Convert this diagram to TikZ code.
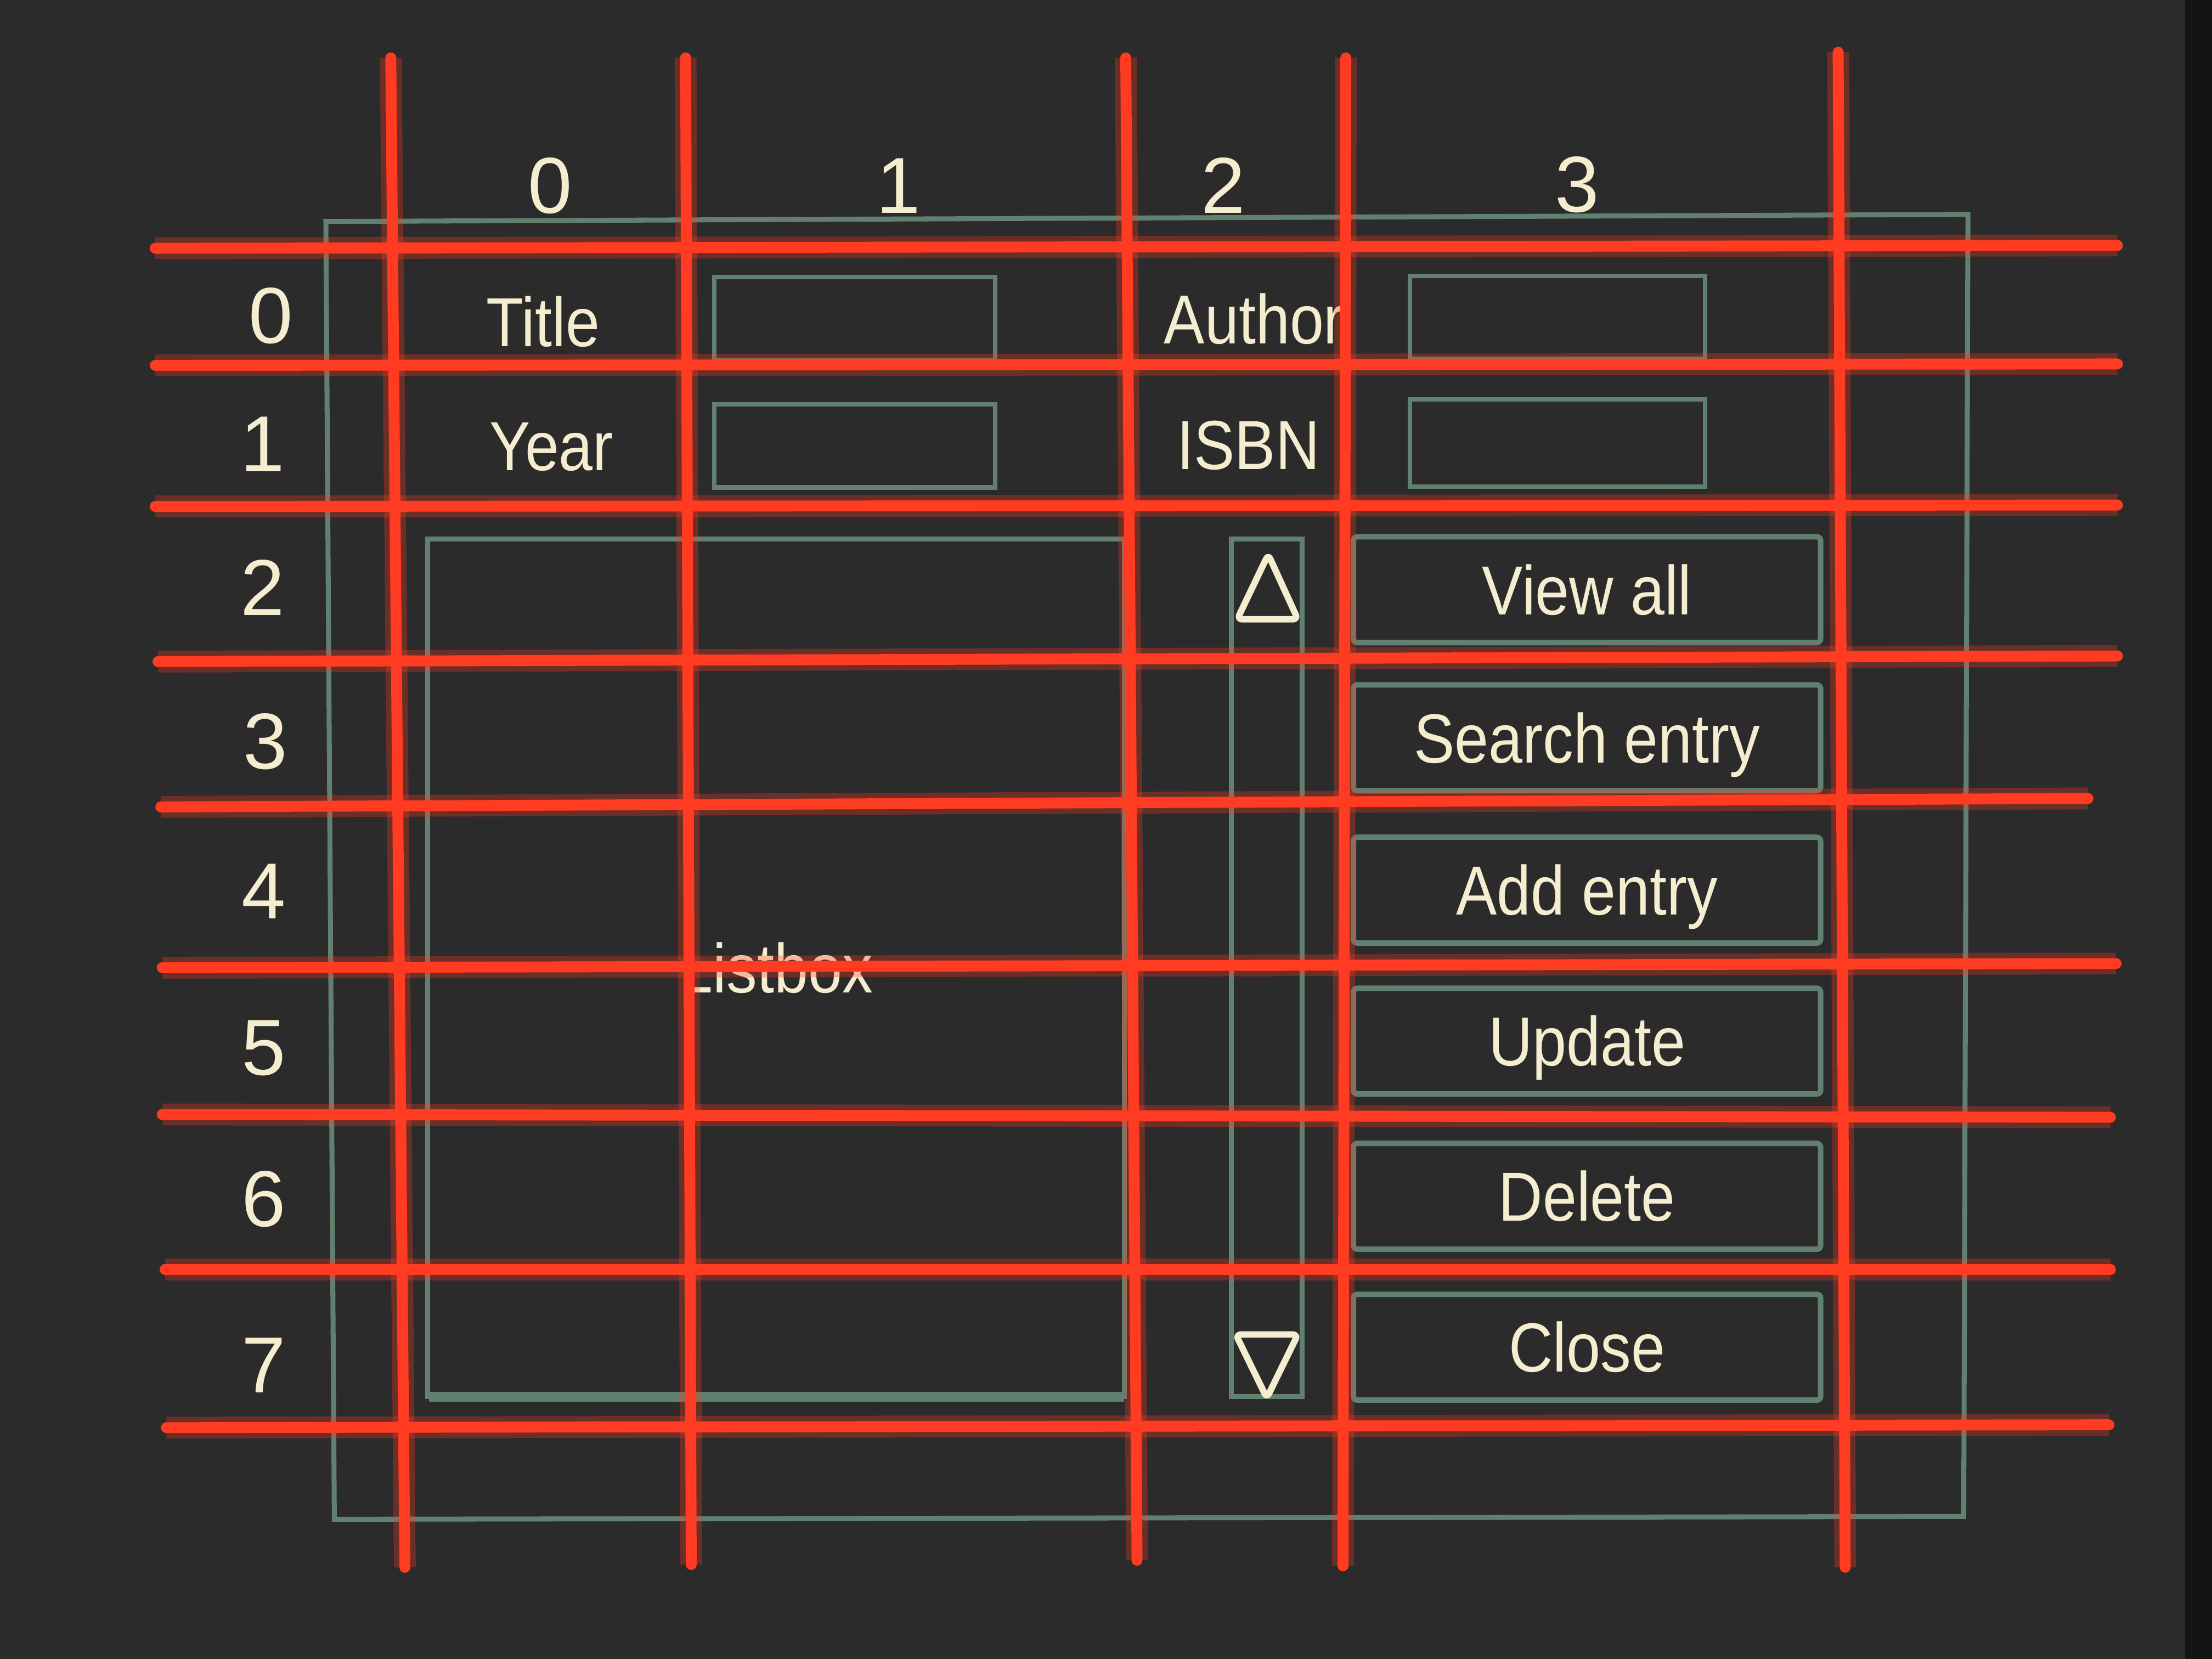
\documentclass[tikz,border=0pt]{standalone}
\usepackage{fontspec}
\setmainfont{Liberation Sans}[FakeStretch=0.88]
\newfontfamily\digitfont{Liberation Sans}
\usetikzlibrary{positioning}
\definecolor{screenbg}{HTML}{2B2B2C}
\definecolor{bezel}{HTML}{141414}
\definecolor{uigreen}{HTML}{62806F}
\definecolor{cream}{HTML}{F5EDCF}
\definecolor{gridred}{HTML}{FF3B22}

\begin{document}
\begin{tikzpicture}[x=0.01cm, y=-0.01cm,
    lbl/.style={text=cream, font=\fontsize{14}{16}\selectfont, inner sep=0pt, text height=10pt, text depth=0pt},
    num/.style={text=cream, font=\digitfont\fontsize{16}{18}\selectfont, inner sep=0pt, text height=11.5pt, text depth=0pt},
    entry/.style={draw=uigreen, line width=0.9pt, minimum width=1.99cm, minimum height=0.59cm, inner sep=0pt},
    button/.style={lbl, draw=uigreen, line width=1.1pt, rounded corners=0.8pt, minimum width=3.31cm, minimum height=0.75cm},
    gridline/.style={preaction={draw, gridred, line width=4.4pt, opacity=0.3}, draw=gridred, line width=2.2pt, line cap=round}]
    \useasboundingbox (0,0) rectangle (1568,1176);
    \fill[screenbg] (0,0) rectangle (1568,1176);
    \fill[bezel] (1549,0) rectangle (1568,1176);

    % Window frame
    \draw[uigreen, line width=1pt] (231,157) -- (1395,152) -- (1392,1075) -- (237,1077) -- cycle;

    % Column numbers
    \node (col0) [num] at (390,131) {0};
    \node (col1) [num] at (637,131) {1};
    \node (col2) [num] at (867,131) {2};
    \node (col3) [num] at (1118,130) {3};

    % Row numbers
    \node (row0) [num] at (192,223) {0};
    \node (row1) [num] at (186,314) {1};
    \node (row2) [num] at (186,416) {2};
    \node (row3) [num] at (188,525) {3};
    \node (row4) [num] at (187,631) {4};
    \node (row5) [num] at (187,742) {5};
    \node (row6) [num] at (187,849) {6};
    \node (row7) [num] at (187,967) {7};

    % Labels and entries
    \node (title) [lbl] at (385,228) {Title};
    \node (year) [lbl] at (391,316) {Year};
    \node (author) [lbl] at (889,226) {Author};
    \node (isbn) [lbl] at (885,315) {ISBN};
    \node (titlebox) [entry] at (606,226) {};
    \node (yearbox) [entry] at (606,316) {};
    \node (authorbox) [entry, minimum width=2.09cm] at (1104,225) {};
    \node (isbnbox) [entry, minimum width=2.09cm, minimum height=0.62cm] at (1104,314) {};

    % Listbox and scrollbar
    \draw[uigreen, line width=1pt] (303,382) rectangle (797,990);
    \draw[uigreen, line width=2pt] (304,990) -- (797,990);
    \node (listbox) [lbl] at (550,686) {Listbox};
    \draw[uigreen, line width=1pt] (873,382) rectangle (923,990);
    \draw[cream, line width=1.3pt, line join=round, rounded corners=1pt] (899,393) -- (920,439) -- (877,439) -- cycle;
    \draw[cream, line width=1.3pt, line join=round, rounded corners=1pt] (876,946) -- (920,946) -- (898,991) -- cycle;

    % Buttons
    \node (viewall) [button] at (1125,418) {View all};
    \node (search) [button] at (1125,523) {Search entry};
    \node (add) [button] at (1125,631) {Add entry};
    \node (update) [button] at (1125,738) {Update};
    \node (delete) [button] at (1125,848) {Delete};
    \node (close) [button] at (1125,955) {Close};

    % Grid lines
    \draw[gridline] (110,176) -- (1501,174);
    \draw[gridline] (110,259) -- (1501,258);
    \draw[gridline] (110,359) -- (1501,358);
    \draw[gridline] (112,469) -- (1501,465);
    \draw[gridline] (114,572) -- (1480,566);
    \draw[gridline] (115,686) -- (1500,683);
    \draw[gridline] (115,790) -- (1496,792);
    \draw[gridline] (117,900) -- (1496,900);
    \draw[gridline] (118,1012) -- (1495,1010);
    \draw[gridline] (277,41) -- (287,1111);
    \draw[gridline] (486,41) -- (490,1109);
    \draw[gridline] (798,41) -- (806,1106);
    \draw[gridline] (954,41) -- (952,1110);
    \draw[gridline] (1303,37) -- (1308,1111);
\end{tikzpicture}
\end{document}
